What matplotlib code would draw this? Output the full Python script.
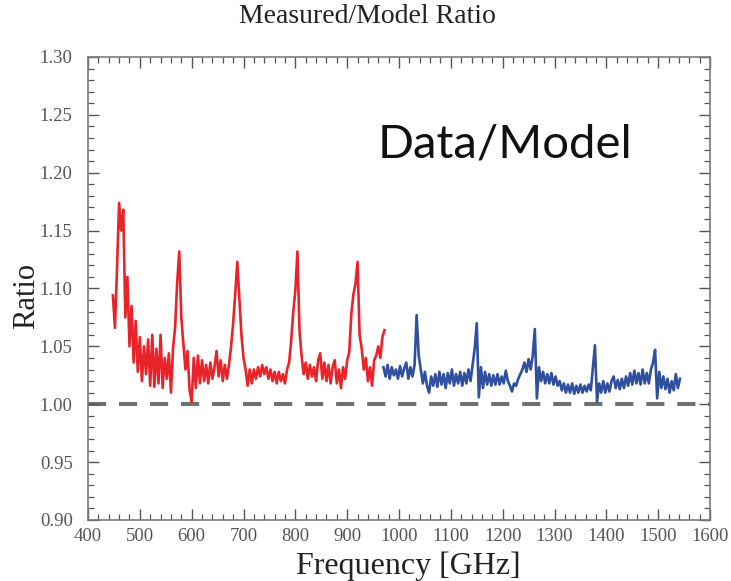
import numpy as np
import matplotlib
matplotlib.use("Agg")
import matplotlib.pyplot as plt
from matplotlib.ticker import MultipleLocator, FormatStrFormatter

# Measured/model ratio, lower band (red) sampled every 4 GHz from 448 GHz
RED_START, RED_STEP = 448, 4
red_ratio = [
    1.094, 1.066, 1.118, 1.174, 1.150, 1.168, 1.075, 1.110, 1.050, 1.085,
    1.036, 1.072, 1.028, 1.058, 1.020, 1.050, 1.026, 1.056, 1.016, 1.060,
    1.015, 1.048, 1.018, 1.060, 1.014, 1.040, 1.022, 1.044, 1.010, 1.048,
    1.066, 1.105, 1.132, 1.075, 1.052, 1.030, 1.046, 1.012, 1.002, 1.040,
    1.014, 1.042, 1.018, 1.038, 1.020, 1.034, 1.018, 1.036, 1.022, 1.032,
    1.046, 1.024, 1.038, 1.020, 1.034, 1.022, 1.034, 1.050, 1.070, 1.095,
    1.123, 1.092, 1.060, 1.040, 1.030, 1.016, 1.030, 1.018, 1.030, 1.022,
    1.032, 1.024, 1.034, 1.026, 1.032, 1.022, 1.030, 1.020, 1.028, 1.018,
    1.028, 1.020, 1.026, 1.018, 1.030, 1.036, 1.055, 1.080, 1.098, 1.132,
    1.064, 1.042, 1.026, 1.036, 1.022, 1.034, 1.024, 1.032, 1.020, 1.038,
    1.044, 1.022, 1.036, 1.020, 1.034, 1.018, 1.032, 1.038, 1.018, 1.030,
    1.014, 1.032, 1.022, 1.038, 1.045, 1.078, 1.095, 1.104, 1.123, 1.060,
    1.048, 1.030, 1.040, 1.020, 1.032, 1.016, 1.038, 1.042, 1.050, 1.040,
    1.058, 1.064,
]

# Upper band (blue) sampled every 4 GHz from 970 GHz
BLUE_START, BLUE_STEP = 970, 4
blue_ratio = [
    1.032, 1.024, 1.034, 1.022, 1.032, 1.025, 1.030, 1.022, 1.033, 1.024,
    1.031, 1.036, 1.022, 1.032, 1.024, 1.034, 1.077, 1.042, 1.030, 1.018,
    1.028, 1.016, 1.010, 1.024, 1.016, 1.026, 1.015, 1.028, 1.017, 1.026,
    1.014, 1.027, 1.018, 1.030, 1.016, 1.026, 1.018, 1.028, 1.016, 1.027,
    1.018, 1.030, 1.020, 1.034, 1.048, 1.070, 1.006, 1.032, 1.014, 1.028,
    1.017, 1.026, 1.016, 1.025, 1.017, 1.026, 1.017, 1.024, 1.018, 1.029,
    1.020, 1.016, 1.011, 1.018, 1.016, 1.022, 1.026, 1.030, 1.036, 1.028,
    1.039, 1.030, 1.042, 1.065, 1.005, 1.032, 1.020, 1.028, 1.018, 1.026,
    1.018, 1.027, 1.017, 1.024, 1.016, 1.020, 1.012, 1.018, 1.010, 1.017,
    1.010, 1.018, 1.009, 1.016, 1.010, 1.017, 1.010, 1.016, 1.011, 1.017,
    1.012, 1.032, 1.051, 1.002, 1.018, 1.010, 1.020, 1.010, 1.018, 1.011,
    1.020, 1.024, 1.014, 1.021, 1.013, 1.022, 1.014, 1.024, 1.016, 1.027,
    1.017, 1.029, 1.018, 1.027, 1.017, 1.030, 1.018, 1.027, 1.018, 1.030,
    1.036, 1.047, 1.005, 1.028, 1.014, 1.024, 1.013, 1.022, 1.010, 1.020,
    1.012, 1.026, 1.014, 1.022,
]

UNITY = 1.00

red_freq = RED_START + RED_STEP * np.arange(len(red_ratio))
blue_freq = BLUE_START + BLUE_STEP * np.arange(len(blue_ratio))

SERIF = ["Liberation Serif", "DejaVu Serif"]
plt.rcParams["font.family"] = SERIF

fig = plt.figure(figsize=(7.31, 5.81), dpi=100)
ax = fig.add_axes([0.1204, 0.105, 0.8509, 0.7969])

ax.axhline(UNITY, color="#707070", lw=2.9, dashes=(4.5, 3.2), zorder=1)
ax.plot(red_freq, red_ratio, color="#e8232a", lw=1.9, zorder=3)
ax.plot(blue_freq, blue_ratio, color="#2f4f9f", lw=1.9, zorder=3)

ax.set_xlim(400, 1600)
ax.set_ylim(0.90, 1.30)
ax.xaxis.set_major_locator(MultipleLocator(100))
ax.xaxis.set_minor_locator(MultipleLocator(20))
ax.yaxis.set_major_locator(MultipleLocator(0.05))
ax.yaxis.set_minor_locator(MultipleLocator(0.01))
ax.yaxis.set_major_formatter(FormatStrFormatter("%.2f"))

ax.tick_params(which="both", direction="in", top=True, right=True,
               color="#555555", labelcolor="#555555", labelsize=13.5)
ax.tick_params(which="major", length=8, width=1.0)
ax.tick_params(axis="x", which="major", pad=6)
ax.tick_params(axis="y", which="major", pad=11)
ax.tick_params(which="minor", length=4.5, width=0.9)
for s in ax.spines.values():
    s.set_color("#7a7a7a")
    s.set_linewidth(1.2)

ax.text(1204, 1.224, "Data/Model", ha="center", va="center",
        fontsize=34, family=["Lato", "DejaVu Sans"], color="#111111")

fig.text(0.503, 0.971, "Measured/Model Ratio", ha="center", va="center",
         fontsize=20, color="#222222")
fig.text(0.037, 0.49, "Ratio", ha="center", va="center", rotation=90,
         fontsize=22, color="#222222")
fig.text(0.558, 0.026, "Frequency [GHz]", ha="center", va="center",
         fontsize=23, color="#222222")

fig.savefig("out.png", dpi=100)
